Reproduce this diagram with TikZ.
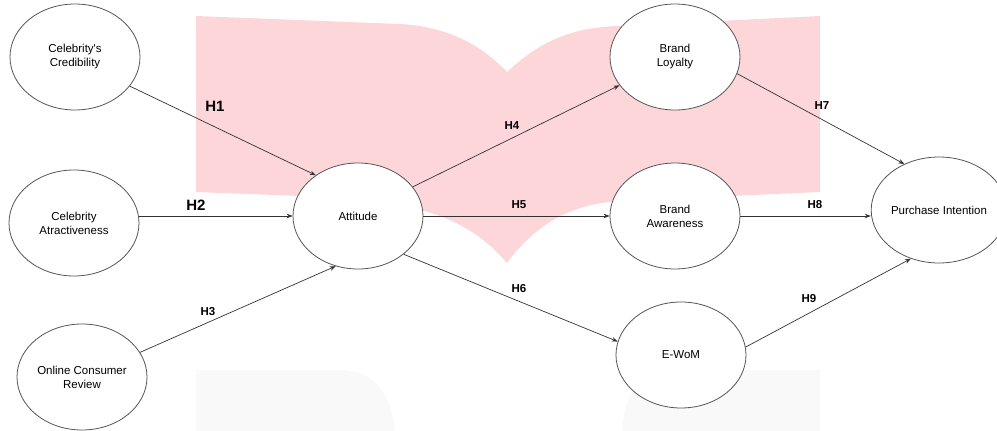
\documentclass[tikz,border=0pt]{standalone}
\usepackage{fontspec}
\setmainfont{Liberation Sans}
\usetikzlibrary{shapes.geometric,arrows.meta}
\definecolor{bookpink}{HTML}{FDD6DA}
\definecolor{bookgray}{HTML}{F9F9F9}
\definecolor{edgegray}{HTML}{555555}
\tikzset{
  construct/.style={ellipse,draw=edgegray,line width=0.8pt,fill=white,
    minimum width=130pt,minimum height=106pt,inner sep=0pt,align=center,
    font=\fontsize{11.5}{14}\selectfont},
  path/.style={draw=black!80,line width=0.7pt,-{Stealth[length=6pt,width=4.5pt]}},
  hbig/.style={font=\fontsize{15}{17}\selectfont\bfseries,inner sep=0pt},
  hsmall/.style={font=\fontsize{11.5}{13}\selectfont\bfseries,inner sep=0pt}
}
\begin{document}
\begin{tikzpicture}[x=1pt,y=-1pt]
\useasboundingbox (0,0) rectangle (997,431);
\begin{scope}
\clip (0,0) rectangle (997,431);
% background watermark shapes
\fill[bookpink] (196,16) -- (400,24) .. controls (450,27) and (482,46) .. (507,72)
  .. controls (535,46) and (565,28) .. (617,26) -- (820,16) -- (820,192)
  -- (620,201) .. controls (570,204) and (535,225) .. (507,263)
  .. controls (470,220) and (420,198) .. (300,196) -- (196,192) -- cycle;
\fill[bookgray] (196,431) -- (196,370) -- (340,370) .. controls (380,371) and (392,400) .. (395,431) -- cycle;
\fill[bookgray] (820,431) -- (820,370) -- (670,370) .. controls (635,371) and (624,400) .. (622,431) -- cycle;
% constructs
\node[construct] (cc)  at (75,57)   {Celebrity\textquotesingle s\\Credibility};
\node[construct] (ca)  at (74,223)  {Celebrity\\Atractiveness};
\node[construct] (ocr) at (82,377)  {Online Consumer\\Review};
\node[construct] (att) at (358,216) {Attitude};
\node[construct] (bl)  at (675,57)  {Brand\\Loyalty};
\node[construct] (ba)  at (675,216) {Brand\\Awareness};
\node[construct] (ew)  at (681,355) {E-WoM};
\node[construct] (pi)  at (939,210) {Purchase Intention};
% paths
\draw[path] (cc.-28) -- (att.136);
\draw[path] (att.west -| ca.east) -- (att.west);
\draw[path] (ocr.23) -- (att.246);
\draw[path] (att.28) -- (bl.207);
\draw[path] (att.east) -- (ba.west);
\draw[path] (att.-40) -- (ew.168);
\draw[path] (bl.-15) -- (pi.127);
\draw[path] (ba.east) -- (ba.east -| pi.west);
\draw[path] (ew.7) -- (pi.240);
% labels
\node[hbig]   (h1) at (215,106) {H1};
\node[hbig]   (h2) at (196,205) {H2};
\node[hsmall] (h3) at (208,312) {H3};
\node[hsmall] (h4) at (512,126) {H4};
\node[hsmall] (h5) at (519,205) {H5};
\node[hsmall] (h6) at (519,289) {H6};
\node[hsmall] (h7) at (822,106) {H7};
\node[hsmall] (h8) at (815,205) {H8};
\node[hsmall] (h9) at (809,299) {H9};
\end{scope}
\end{tikzpicture}
\end{document}
